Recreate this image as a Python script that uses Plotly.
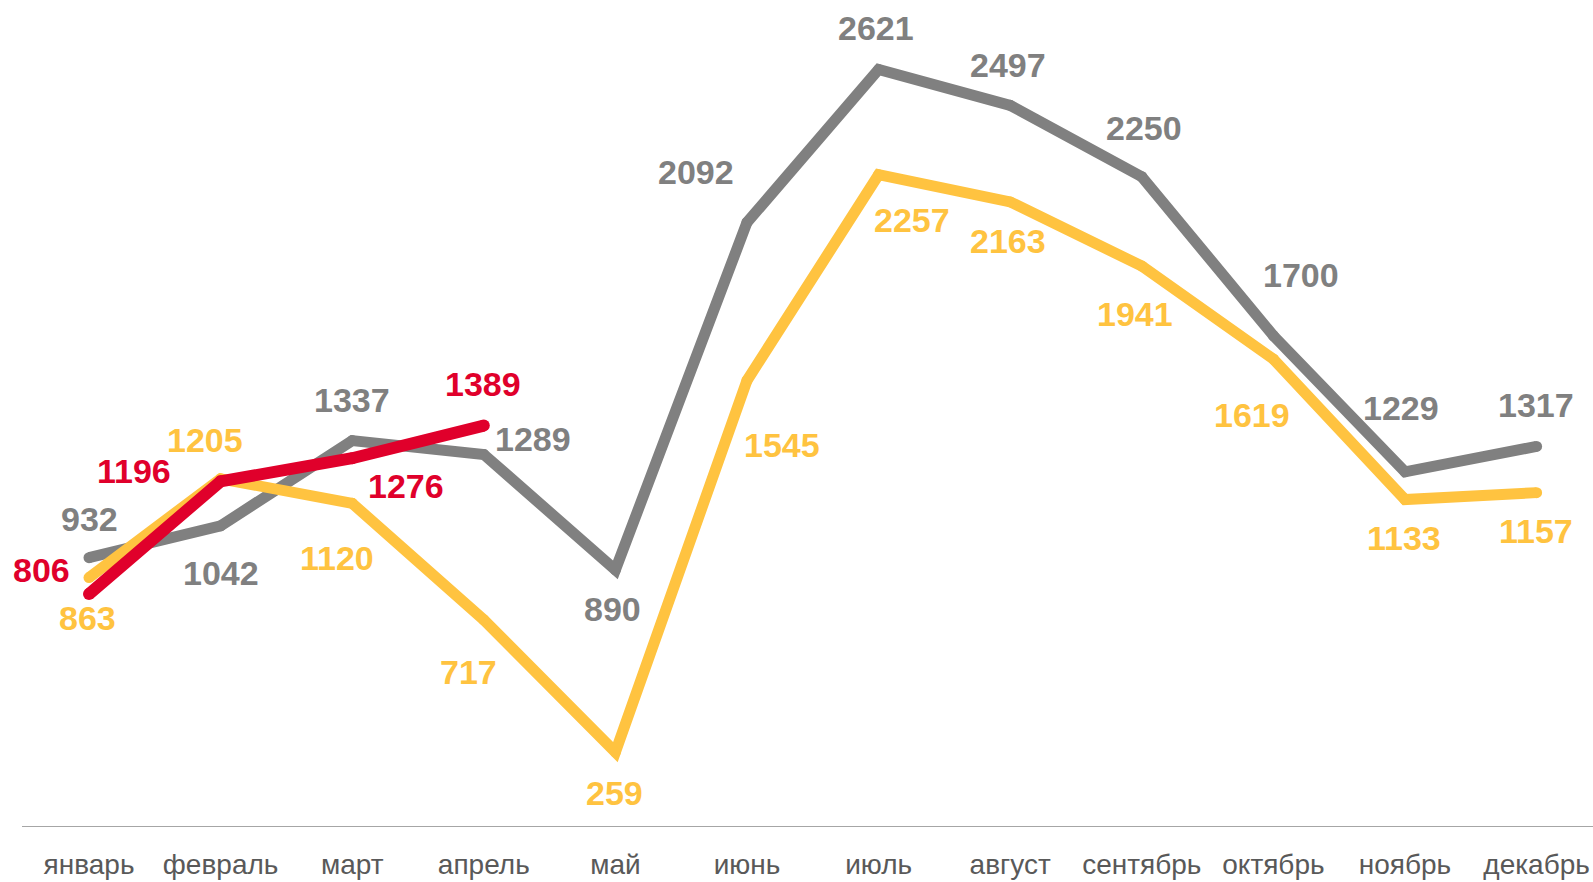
import plotly.graph_objects as go

months = ["январь", "февраль", "март", "апрель", "май", "июнь",
          "июль", "август", "сентябрь", "октябрь", "ноябрь", "декабрь"]
gray_vals = [932, 1042, 1337, 1289, 890, 2092, 2621, 2497, 2250, 1700, 1229, 1317]
yellow_vals = [863, 1205, 1120, 717, 259, 1545, 2257, 2163, 1941, 1619, 1133, 1157]
red_vals = [806, 1196, 1276, 1389]

# label offsets in pixels (xshift, yshift) — layout, not data
gray_off = [(0, 39), (0, -47), (0, 41), (49, 15), (-3, -39), (-51, 50),
            (-3, 42), (-2, 40), (2, 49), (28, 61), (-4, 64), (-1, 41)]
yellow_off = [(-2, -40), (-16, 39), (-15, -55), (-15, -52), (-1, -41), (35, -65),
              (33, -45), (-2, -39), (-7, -48), (-21, -56), (-1, -38), (-1, -38)]
red_off = [(-48, 24), (-87, 10), (54, -28), (-1, 42)]

GRAY = "#808080"
YELLOW = "#FFC340"
RED = "#E0002B"

W, H = 1593, 882
xs = list(range(12))

fig = go.Figure()
for vals, col, lw in [(gray_vals, GRAY, 11), (yellow_vals, YELLOW, 11), (red_vals, RED, 12)]:
    fig.add_trace(go.Scatter(
        x=xs[:len(vals)], y=vals, mode="lines+markers",
        line=dict(color=col, width=lw),
        marker=dict(color=col, size=lw, line=dict(width=0)),
        hoverinfo="skip", showlegend=False, cliponaxis=False))

ann = []
for vals, offs, col in [(gray_vals, gray_off, GRAY), (yellow_vals, yellow_off, YELLOW), (red_vals, red_off, RED)]:
    for i, (v, (dx, dy)) in enumerate(zip(vals, offs)):
        ann.append(dict(x=i, y=v, xref="x", yref="y", text="<b>" + str(v) + "</b>", showarrow=False,
                        xshift=dx, yshift=dy,
                        font=dict(family="Liberation Sans, Arial, sans-serif", size=34, color=col)))

spacing = 131.6
x0 = -89 / spacing
x1 = x0 + W / spacing
bottom = 55
plot_h = H - bottom
y_top = plot_h / 0.289

fig.update_layout(
    width=W, height=H,
    margin=dict(l=0, r=0, t=0, b=bottom),
    paper_bgcolor="white", plot_bgcolor="white",
    xaxis=dict(range=[x0, x1], tickmode="array", tickvals=xs, ticktext=months,
               showgrid=False, zeroline=False, showline=False,
               ticks="outside", ticklen=12, tickcolor="rgba(0,0,0,0)",
               tickfont=dict(family="Liberation Sans, Arial, sans-serif",
                             size=28, color="#595959")),
    yaxis=dict(range=[0, y_top], visible=False),
    annotations=ann,
    shapes=[dict(type="line", xref="paper", yref="y", x0=22 / W, x1=1, y0=0, y1=0,
                 line=dict(color="#A6A6A6", width=2))],
)

fig.write_html("out.html", config={"displayModeBar": False},
               post_script="document.body.style.margin='0';document.body.style.padding='0';document.body.style.overflow='hidden';")
